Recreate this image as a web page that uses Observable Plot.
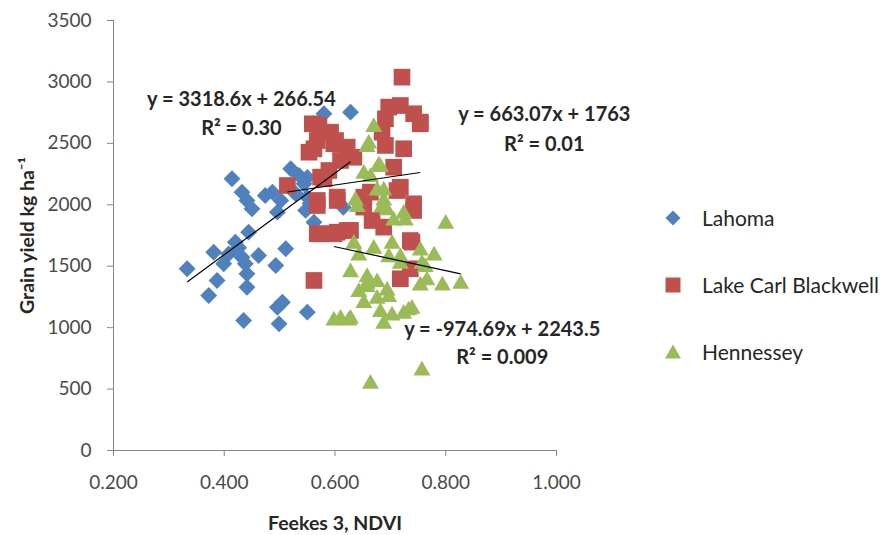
<!DOCTYPE html>
<html><head><meta charset="utf-8">
<script src="https://cdn.jsdelivr.net/npm/d3@7"></script>
<script src="https://cdn.jsdelivr.net/npm/@observablehq/plot@0.6"></script>
<style>
body{margin:0;background:#fff;}
#wrap{position:relative;width:887px;height:535px;font-family:Lato,"Open Sans",sans-serif;overflow:hidden;}
#legend{position:absolute;left:0;top:0;}
.item{position:absolute;display:flex;align-items:center;white-space:nowrap;font-size:21px;color:#262626;}
.item svg{margin-right:20px;}
.chart g[aria-label="x-axis label"] text,.chart g[aria-label="y-axis label"] text{font-weight:bold;fill:#262626;font-size:19.5px;}
</style></head><body>
<div id="wrap"><div id="chart"></div><div id="legend"></div></div>
<script>
// ---- data ----
const seriesNames = ["Lahoma", "Lake Carl Blackwell", "Hennessey"];
const seriesColors = ["#4F81BD", "#C0504D", "#9BBB59"];

const lahomaNDVI = [0.333,0.372,0.381,0.387,0.399,0.408,0.414,0.420,0.426,0.432,0.432,0.435,0.438,0.441,0.441,0.441,0.444,0.450,0.462,0.474,0.487,0.493,0.496,0.496,0.499,0.502,0.505,0.511,0.520,0.529,0.535,0.544,0.547,0.550,0.550,0.550,0.555,0.561,0.562,0.580,0.615,0.628];
const lahomaYield = [1479,1262,1614,1384,1520,1600,2212,1696,1650,2103,1573,1058,1520,2035,1438,1329,1777,1967,1587,2076,2103,1506,1940,1166,1031,2035,1207,1642,2293,2090,2239,2171,1954,2062,1126,2222,2010,2662,1858,2741,1980,2754];

const lcbNDVI = [0.514,0.553,0.559,0.562,0.562,0.568,0.568,0.568,0.568,0.571,0.574,0.574,0.580,0.589,0.592,0.598,0.598,0.601,0.604,0.604,0.604,0.610,0.622,0.622,0.628,0.634,0.652,0.652,0.664,0.667,0.685,0.688,0.691,0.691,0.697,0.706,0.712,0.718,0.718,0.718,0.721,0.724,0.736,0.736,0.739,0.742,0.742,0.742,0.754,0.754];
const lcbYield = [2157,2428,2659,1384,2456,2523,1994,2035,1764,2646,2225,1764,2212,2279,2591,2497,1764,2523,2062,1777,2035,2361,2469,1791,1791,2387,1981,2062,2103,1872,2591,1818,2700,2483,2795,2306,2116,2808,2143,1398,3039,2456,1709,1479,1696,2741,2008,1954,2659,2673];

const henNDVI = [0.598,0.610,0.625,0.628,0.628,0.634,0.637,0.640,0.643,0.643,0.652,0.652,0.658,0.658,0.658,0.658,0.661,0.664,0.664,0.670,0.670,0.676,0.676,0.676,0.679,0.682,0.682,0.685,0.688,0.688,0.688,0.694,0.694,0.697,0.697,0.703,0.703,0.706,0.718,0.718,0.724,0.724,0.727,0.733,0.739,0.754,0.754,0.757,0.757,0.763,0.766,0.779,0.794,0.800,0.827];
const henYield = [1058,1072,1058,1072,1450,1682,2035,1981,1587,1290,2252,1200,1357,1329,1411,2469,2497,543,2225,2632,1642,2116,1370,1235,2320,2306,1126,1981,2035,1031,2116,1954,1302,1573,1248,1682,1099,1872,1573,1520,1927,1113,1872,1140,1153,1628,1343,1520,651,1492,1384,1587,1343,1845,1357];

// trend-line equations as printed on the chart
const trendSlopes = [3318.6, 663.07, -974.69];
const trendIntercepts = [266.54, 1763, 2243.5];
const trendEquations = ["y = 3318.6x + 266.54", "y = 663.07x + 1763", "y = -974.69x + 2243.5"];
const trendR2 = ["R² = 0.30", "R² = 0.01", "R² = 0.009"];
// label anchors in data units (NDVI, yield)
const eqLabelNDVI = [0.431, 0.978, 0.902];
const eqLabelYield = [2860, 2735, 985];
const r2LabelYield = [2620, 2490, 760];

const xTicks = [0.2, 0.4, 0.6, 0.8, 1.0];
const yTicks = [0, 500, 1000, 1500, 2000, 2500, 3000, 3500];

// ---- build tables ----
const seriesX = [lahomaNDVI, lcbNDVI, henNDVI];
const seriesY = [lahomaYield, lcbYield, henYield];
const rows = seriesNames.map((name, s) => seriesX[s].map((x, i) => ({site: name, ndvi: x, yld: seriesY[s][i]})));
const trends = seriesNames.map((name, s) => {
  const [lo, hi] = d3.extent(seriesX[s]);
  return {site: name, x1: lo, x2: hi, y1: trendSlopes[s] * lo + trendIntercepts[s], y2: trendSlopes[s] * hi + trendIntercepts[s]};
});
const labels = seriesNames.flatMap((name, s) => [
  {x: eqLabelNDVI[s], y: eqLabelYield[s], t: trendEquations[s]},
  {x: eqLabelNDVI[s], y: r2LabelYield[s], t: trendR2[s]}
]);

const symbolsBySeries = ["diamond2", "square", "triangle"];
const radiiBySeries = [7.6, 9.4, 6.3];

const chart = Plot.plot({
  className: "chart",
  width: 640, height: 535,
  marginLeft: 113, marginRight: 84, marginTop: 20, marginBottom: 85,
  style: {fontFamily: "Lato, 'Open Sans', sans-serif", fontSize: "19px", color: "#4a4a4a", background: "#fff"},
  x: {domain: [0.2, 1.0]},
  y: {domain: [0, 3500]},
  marks: [
    Plot.axisX({ticks: xTicks, tickFormat: d3.format(".3f"), tickSize: 6, tickPadding: 19, stroke: "#868686",
      label: "Feekes 3, NDVI", labelAnchor: "center", labelArrow: "none", labelOffset: 79}),
    Plot.axisY({ticks: yTicks, tickFormat: d => String(d), tickSize: 6, tickPadding: 16, stroke: "#868686",
      label: "Grain yield kg ha⁻¹", labelAnchor: "center", labelArrow: "none", labelOffset: 93}),
    Plot.ruleY([0], {stroke: "#868686"}),
    Plot.ruleX([0.2], {stroke: "#868686"}),
    ...rows.map((data, s) => Plot.dot(data, {x: "ndvi", y: "yld", symbol: () => symbolsBySeries[s], r: radiiBySeries[s], fill: seriesColors[s], stroke: "none"})),
    Plot.link(trends, {x1: "x1", y1: "y1", x2: "x2", y2: "y2", stroke: "#000", strokeWidth: 1.2}),
    Plot.text(labels, {x: "x", y: "y", text: "t", fontWeight: "bold", fontSize: 20, fill: "#262626"})
  ]
});
document.getElementById("chart").appendChild(chart);

// ---- legend (right side) ----
const legend = document.getElementById("legend");
const legendShapes = [
  '<svg width="18" height="18" viewBox="-9 -9 18 18"><path d="M0,-7.5L7.5,0L0,7.5L-7.5,0Z" fill="#4F81BD"/></svg>',
  '<svg width="18" height="18" viewBox="-9 -9 18 18"><rect x="-7.5" y="-7.5" width="15" height="15" fill="#C0504D"/></svg>',
  '<svg width="18" height="18" viewBox="-9 -9 18 18"><path d="M0,-7.5L8,6.5L-8,6.5Z" fill="#9BBB59"/></svg>'
];
const legendTops = [205, 272, 339];
seriesNames.forEach((name, s) => {
  const div = document.createElement("div");
  div.className = "item";
  div.style.left = "664px";
  div.style.top = legendTops[s] + "px";
  div.innerHTML = legendShapes[s] + "<span>" + name + "</span>";
  legend.appendChild(div);
});
</script>
</body></html>
